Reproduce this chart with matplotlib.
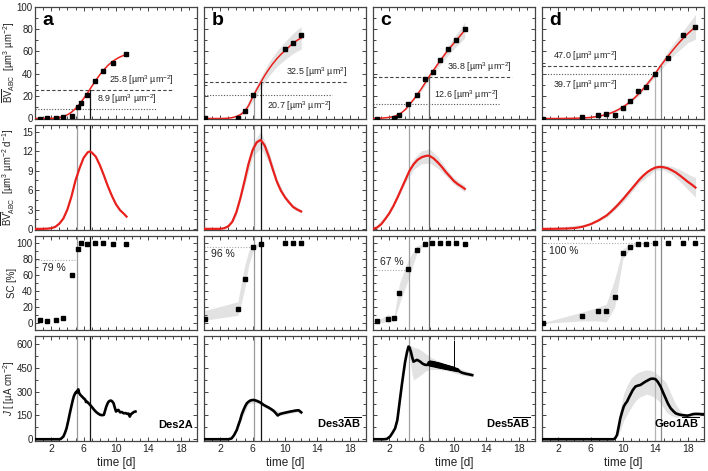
import matplotlib
matplotlib.use("Agg")
import matplotlib.pyplot as plt
from matplotlib.ticker import MultipleLocator, FixedLocator

plt.rcParams["font.family"] = ["Liberation Sans", "DejaVu Sans"]
plt.rcParams["mathtext.fontset"] = "custom"
plt.rcParams["mathtext.rm"] = "Liberation Sans"
plt.rcParams["mathtext.it"] = "Liberation Sans:italic"
plt.rcParams["mathtext.bf"] = "Liberation Sans:bold"
plt.rcParams["axes.linewidth"] = 0.9
plt.rcParams["axes.edgecolor"] = "#444444"

# ---------------- panel a (Des2A) ----------------
a_pts_t = [0.6, 1.45, 2.6, 3.5, 4.6, 5.37, 5.67, 6.41, 7.44, 8.35, 9.6, 11.25]
a_bv = [0, 0.2, 0.3, 0.9, 2.0, 10.3, 14.2, 21.4, 33.2, 42.1, 49.5, 57.3]
a_sc = [3.75, 2.5, 4.6, 6.7, 60.4, 92.9, 100, 99.6, 100, 100, 99.2, 99.2]
a_fit_t = [0, 0.5, 1, 1.5, 2, 2.5, 3, 3.5, 4, 4.5, 5, 5.5, 6, 6.5, 6.75, 7, 7.5, 8, 8.5, 9, 9.5, 10, 10.5, 11, 11.3]
a_fit_bv = [0, 0, 0, 0.05, 0.1, 0.35, 0.8, 1.8, 3.3, 5.6, 8.8, 12.8, 17.8, 23.0, 25.8, 28.6, 34.0, 39.0, 43.5, 47.4, 50.5, 53.0, 55.0, 56.5, 57.3]
a_fit_rate = [0, 0, 0, 0.03, 0.1, 0.3, 0.8, 1.6, 3.0, 5.0, 7.5, 9.4, 11.0, 11.85, 12.0, 11.85, 11.2, 9.9, 8.3, 6.6, 5.1, 3.8, 2.9, 2.3, 1.9]
a_j_t = [0, 3.0, 3.2, 3.5, 3.7, 3.9, 4.1, 4.3, 4.5, 4.67, 4.8, 4.96, 5.1, 5.2, 5.25, 5.35, 5.45, 5.6, 5.8, 6.0,
         6.2, 6.3, 6.4, 6.6, 6.8, 7.0, 7.2, 7.4, 7.6, 7.8, 8.06, 8.3, 8.5, 8.65, 8.8, 8.95, 9.1, 9.25, 9.4, 9.55,
         9.7, 9.85, 10.0, 10.15, 10.3, 10.5, 10.7, 10.95, 11.2, 11.4, 11.55, 11.7, 11.85, 12.0, 12.2, 12.4]
a_j = [0, 0, 3, 17, 40, 70, 115, 164, 210, 248, 272, 290, 300, 296, 308, 315, 292, 280, 270, 259,
       250, 235, 238, 228, 217, 205, 192, 180, 170, 162, 154, 152, 154, 180, 206, 225, 238, 243, 244, 238,
       227, 200, 175, 183, 185, 170, 172, 164, 165, 160, 162, 143, 158, 164, 172, 175]
a_times = [5.17, 6.74]
a_levels = [8.9, 25.8]
a_sc_level = 79

# ---------------- panel b (Des3AB) ----------------
b_bv_t = [0.12, 4.18, 5.0, 6.04, 10.05, 11.0, 12.0]
b_bv = [0.3, 0.5, 6.5, 20.7, 62.3, 67.3, 74.2]
b_sc_t = [0.12, 4.18, 5.0, 6.04, 7.03, 10.05, 11.0, 12.0]
b_sc = [5.4, 17.9, 56, 95, 99.6, 100, 100, 100]
b_fit_t = [0, 0.5, 1, 1.5, 2, 2.5, 3, 3.5, 4, 4.5, 5, 5.5, 6, 6.5, 7, 7.5, 8, 8.5, 9, 9.5, 10, 10.5, 11, 11.5, 12]
b_fit_bv = [0, 0, 0, 0, 0, 0.1, 0.3, 0.8, 1.8, 3.5, 6.2, 11.5, 19.0, 25.8, 32.3, 38.5, 44, 49, 53.4, 57.3, 60.6, 64, 67.2, 69.8, 72]
b_fit_rate = [0, 0, 0, 0, 0, 0.1, 0.4, 1.1, 2.6, 4.8, 7.4, 10.1, 12.2, 13.4, 13.8, 12.9, 11.2, 9.2, 7.3, 5.9, 4.9, 4.1, 3.4, 3.0, 2.7]
b_bv_band_t = [4, 5, 6, 7, 8, 9, 10, 11, 12]
b_bv_lo = [1.5, 4.2, 15, 27, 38, 46.4, 52.6, 58.2, 62]
b_bv_hi = [2.1, 8.2, 23, 37, 50, 60.4, 68.6, 76.2, 82]
b_rate_band_t = [2, 3, 4, 5, 6, 7, 8, 9, 10, 11, 12]
b_rate_lo = [0, 0.2, 2.1, 6.6, 11.2, 12.5, 10.3, 6.8, 4.6, 3.1, 2.4]
b_rate_hi = [0.1, 0.6, 3.1, 8.2, 13.2, 15.1, 12.1, 7.8, 5.2, 3.7, 3.0]
b_sc_band_t = [0.12, 4.18, 4.6, 5.0, 5.5, 6.04, 7.03]
b_sc_lo = [4, 10, 25, 42, 72, 90, 99.5]
b_sc_hi = [16, 27, 50, 71, 90, 98, 100.5]
b_j_t = [0, 3.0, 3.4, 3.7, 4.05, 4.25, 4.47, 4.65, 4.88, 5.1, 5.29, 5.5, 5.7, 5.9, 6.12, 6.3, 6.53, 6.75, 6.95,
         7.15, 7.36, 7.6, 7.98, 8.3, 8.6, 8.85, 9.1, 9.25, 9.43, 9.7, 10.05, 10.4, 10.67, 11.0, 11.3, 11.7, 12.0]
b_j = [0, 0, 5, 25, 59, 90, 122, 155, 185, 210, 227, 237, 244, 247, 248, 246, 242, 237, 232,
       225, 217, 210, 200, 190, 179, 165, 150, 155, 160, 164, 168, 172, 175, 178, 181, 183, 170]
b_j_band_t = [3.7, 4.5, 5.5, 6.5, 7.5, 8.5, 9.5, 10.5, 11.5, 12.0]
b_j_lo = [18, 112, 225, 229, 202, 171, 151, 162, 172, 160]
b_j_hi = [32, 138, 251, 256, 225, 193, 172, 183, 193, 181]
b_times = [6.12, 7.03]
b_levels = [20.7, 32.5]
b_sc_level = 96

# ---------------- panel c (Des5AB) ----------------
c_bv_t = [0.46, 2.6, 3.27, 4.38, 5.42, 6.37, 7.36, 8.31, 9.26, 10.3, 11.33]
c_bv = [0, 0.3, 2.9, 12.7, 21.4, 35, 41.5, 52.5, 62.3, 70.3, 80.1]
c_sc_t = [0.46, 1.82, 2.6, 3.27, 4.38, 5.42, 6.45, 7.32, 8.31, 9.26, 10.26, 11.3]
c_sc = [2.5, 5.4, 6.25, 37.5, 67.5, 92, 99.6, 100, 100, 100, 100, 99.6]
c_fit_t = [0, 0.5, 1, 1.5, 2, 2.5, 3, 3.5, 4, 4.5, 5, 5.5, 6, 6.5, 6.87, 7, 7.5, 8, 8.5, 9, 9.5, 10, 10.5, 11, 11.33]
c_fit_bv = [0, 0.1, 0.3, 0.6, 1.0, 1.6, 3.0, 5.0, 8.0, 12.6, 16.9, 21.7, 26.9, 32.5, 36.8, 38.2, 43.4, 48.6, 53.7, 58.5, 63.1, 67.4, 71.6, 75.9, 79.2]
c_fit_rate = [0, 0.2, 0.7, 1.5, 2.4, 3.5, 4.8, 6.2, 7.6, 9.0, 10.0, 10.7, 11.1, 11.3, 11.35, 11.3, 10.9, 10.3, 9.6, 8.8, 8.1, 7.4, 6.9, 6.5, 6.2]
c_bv_band_t = [4, 5, 6, 7, 8, 9, 10, 11, 11.33]
c_bv_lo = [7.5, 15.9, 24.9, 35.3, 45.3, 54.3, 62.3, 69.4, 72.2]
c_bv_hi = [8.5, 17.9, 28.9, 40.3, 51.3, 62.3, 72.3, 82.4, 86.2]
c_rate_band_t = [0, 2, 3, 4, 5, 6, 7, 8, 9, 10, 11.33]
c_rate_lo = [0, 2.2, 4.5, 7.1, 9.2, 10.1, 10.2, 9.4, 8.2, 6.9, 5.7]
c_rate_hi = [0.05, 2.6, 5.1, 8.1, 10.8, 12.1, 12.4, 11.2, 9.4, 7.9, 6.7]
c_sc_band_t = [0.46, 1.82, 2.6, 3.27, 4.38, 5.42, 6.45, 7.32]
c_sc_lo = [0, 2, 3, 25, 55, 88, 99, 99.5]
c_sc_hi = [3, 11, 9, 50, 80, 97, 100, 100.5]
c_j_t = [0, 1.3, 1.7, 2.1, 2.4, 2.73, 3.0, 3.14, 3.35, 3.56, 3.77, 3.97, 4.2, 4.38, 4.5, 4.67, 4.85, 5.0, 5.2,
         5.42, 5.6, 5.83, 6.05, 6.24, 6.45, 6.66,
         6.8, 6.9, 7.0, 7.1, 7.2, 7.3, 7.4, 7.5, 7.6, 7.7, 7.8, 7.9, 8.0, 8.1, 8.2, 8.3, 8.4, 8.5, 8.6, 8.7,
         8.8, 8.9, 9.0, 9.1, 9.2, 9.3, 9.4, 9.5, 9.6, 9.7, 9.8, 9.9, 10.0, 10.1, 10.2, 10.3, 10.4, 10.5, 10.6,
         10.8, 11.0, 11.2, 11.5, 11.8, 12.0, 12.25]
c_j = [0, 0, 2, 17, 40, 69, 120, 175, 260, 343, 420, 490, 550, 585, 580, 554, 515, 490, 495,
       501, 497, 490, 480, 474, 470, 469,
       472, 486, 466, 490, 465, 488, 462, 486, 460, 484, 458, 481, 455, 479, 453, 476, 451, 473, 449, 470,
       447, 467, 445, 464, 443, 461, 441, 458, 439, 455, 437, 452, 435, 448, 433, 444, 431, 440, 430,
       425, 420, 417, 413, 410, 408, 405]
c_j_band_t = [4.3, 4.5, 4.8, 5.0, 5.5, 6.0, 6.5, 7.0, 8.0, 9.0, 10.0, 11.0, 12.25]
c_j_lo = [560, 520, 420, 375, 390, 410, 430, 440, 440, 435, 420, 405, 395]
c_j_hi = [580, 595, 590, 580, 575, 560, 540, 520, 495, 475, 460, 440, 420]
c_spike_t = 10.0
c_spike_j = [440, 620]
c_times = [4.47, 6.87]
c_levels = [12.6, 36.8]
c_sc_level = 67

# ---------------- panel d (Geo1AB) ----------------
d_bv_t = [0.08, 4.92, 6.86, 7.94, 9.06, 9.97, 10.84, 11.83, 12.86, 13.9, 15.55, 17.4, 18.9]
d_bv = [0, 0.9, 2.9, 3.8, 3.5, 9.8, 15.7, 24.6, 28.1, 39.4, 54.3, 74.2, 81.6]
d_sc_t = [0.16, 4.92, 6.86, 7.94, 8.97, 9.97, 10.9, 11.87, 12.86, 13.9, 15.55, 17.4, 18.9]
d_sc = [0, 9.6, 15, 15, 32.5, 87.5, 95.8, 99.6, 99.6, 100, 100, 100, 100]
d_fit_t = [0, 1, 2, 3, 4, 5, 6, 7, 8, 8.5, 9, 9.5, 10, 10.5, 11, 11.5, 12, 12.5, 13, 13.5, 14, 14.5, 14.64,
           15, 15.5, 16, 16.5, 17, 17.5, 18, 18.5, 18.95]
d_fit_bv = [0, 0, 0, 0.1, 0.2, 0.45, 0.95, 2.0, 3.7, 4.9, 6.4, 8.2, 10.3, 12.8, 15.7, 18.9, 22.5, 26.5, 30.8,
            35.3, 40.3, 45.6, 47.0, 50.4, 55.1, 59.7, 64.1, 68.3, 72.2, 75.8, 79.0, 81.8]
d_fit_rate = [0, 0, 0.02, 0.05, 0.12, 0.32, 0.72, 1.32, 2.1, 2.65, 3.25, 3.9, 4.6, 5.35, 6.1, 6.85, 7.6, 8.25,
              8.8, 9.2, 9.5, 9.6, 9.6, 9.55, 9.4, 9.1, 8.75, 8.3, 7.8, 7.3, 6.85, 6.4]
d_bv_band_t = [0, 4, 6, 8, 10, 12, 14, 16, 18, 18.95]
d_bv_lo = [0, 0, 0.45, 2.7, 8.8, 20.5, 37.3, 54.7, 67.8, 70.8]
d_bv_hi = [0, 0.5, 1.45, 4.7, 11.8, 24.5, 43.3, 64.7, 83.8, 92.8]
d_rate_band_t = [0, 6, 8, 10, 12, 14, 15, 16, 17, 18, 18.95]
d_rate_lo = [0, 0.62, 1.8, 4.1, 7.1, 9.1, 9.15, 8.5, 7.4, 6.1, 4.9]
d_rate_hi = [0, 0.82, 2.4, 5.1, 8.1, 9.9, 9.95, 9.7, 9.2, 8.5, 7.9]
d_sc_band_t = [0.16, 4.92, 6.86, 7.94, 8.97, 9.97, 10.9, 11.87, 12.86]
d_sc_lo = [0, 3, 3, 2, 20, 80, 93, 99, 99.5]
d_sc_hi = [1, 14, 20, 24, 55, 93, 99, 100.5, 100.5]
d_j_t = [0, 8.85, 9.05, 9.26, 9.45, 9.67, 9.9, 10.09, 10.3, 10.5, 10.7, 10.9, 11.2, 11.54, 11.8, 12.16, 12.5,
         12.78, 13.1, 13.4, 13.7, 14.02, 14.3, 14.64, 14.95, 15.26, 15.55, 15.88, 16.2, 16.5, 16.8, 17.12, 17.5,
         17.95, 18.3, 18.57, 18.9, 19.19, 19.6, 20.0]
d_j = [0, 0, 8, 27, 75, 133, 175, 206, 225, 238, 260, 280, 310, 333, 338, 343, 355,
       364, 373, 381, 383, 379, 362, 333, 295, 259, 225, 196, 178, 164, 158, 154, 151,
       149, 153, 158, 160, 160, 159, 158]
d_j_band_t = [9.3, 9.7, 10.1, 10.5, 11.0, 11.5, 12.0, 12.9, 13.5, 14.0, 14.6, 15.3, 15.9, 16.5, 17.2, 18.0, 20.0]
d_j_lo = [15, 60, 120, 155, 200, 240, 265, 285, 275, 262, 230, 175, 150, 140, 142, 140, 150]
d_j_hi = [40, 200, 290, 340, 385, 410, 425, 438, 435, 420, 395, 360, 290, 220, 170, 160, 168]
d_times = [13.9, 14.64]
d_levels = [39.7, 47.0]
d_sc_level = 100

names = ["Des2A", r"Des3$\overline{\mathbf{AB}}$", r"Des5$\overline{\mathbf{AB}}$", r"Geo1$\overline{\mathbf{AB}}$"]
letters = ["a", "b", "c", "d"]
u = r"[µm$^{3}$ µm$^{-2}$]"

panels = [
    dict(bv_t=a_pts_t, bv=a_bv, sc_t=a_pts_t, sc=a_sc, fit_t=a_fit_t, fit_bv=a_fit_bv, fit_rate=a_fit_rate,
         bv_band=None, rate_band=None, sc_band=None, j_t=a_j_t, j=a_j, j_band=None,
         times=a_times, levels=a_levels, sc_level=a_sc_level, vcol=["#9a9a9a", "#111111"],
         ltext=[("8.9 " + u, 15.1, "right", "above"), ("25.8 " + u, 17.1, "right", "above")],
         line_end=[15.1, 17.1], sc_text_pos="below"),
    dict(bv_t=b_bv_t, bv=b_bv, sc_t=b_sc_t, sc=b_sc, fit_t=b_fit_t, fit_bv=b_fit_bv, fit_rate=b_fit_rate,
         bv_band=(b_bv_band_t, b_bv_lo, b_bv_hi), rate_band=(b_rate_band_t, b_rate_lo, b_rate_hi),
         sc_band=(b_sc_band_t, b_sc_lo, b_sc_hi), j_t=b_j_t, j=b_j, j_band=(b_j_band_t, b_j_lo, b_j_hi),
         times=b_times, levels=b_levels, sc_level=b_sc_level, vcol=["#9a9a9a", "#111111"],
         ltext=[("20.7 " + u, 15.8, "right", "below"), (r"32.5 [µm$^{3}$ µm$^{2}$]", 17.7, "right", "above")],
         line_end=[15.8, 17.7], sc_text_pos="below"),
    dict(bv_t=c_bv_t, bv=c_bv, sc_t=c_sc_t, sc=c_sc, fit_t=c_fit_t, fit_bv=c_fit_bv, fit_rate=c_fit_rate,
         bv_band=(c_bv_band_t, c_bv_lo, c_bv_hi), rate_band=(c_rate_band_t, c_rate_lo, c_rate_hi),
         sc_band=(c_sc_band_t, c_sc_lo, c_sc_hi), j_t=c_j_t, j=c_j, j_band=(c_j_band_t, c_j_lo, c_j_hi),
         times=c_times, levels=c_levels, sc_level=c_sc_level, vcol=["#a0a0a0", "#666666"],
         ltext=[("12.6 " + u, 15.5, "right", "above"), ("36.8 " + u, 17.2, "right", "above")],
         line_end=[15.5, 17.2], sc_text_pos="above"),
    dict(bv_t=d_bv_t, bv=d_bv, sc_t=d_sc_t, sc=d_sc, fit_t=d_fit_t, fit_bv=d_fit_bv, fit_rate=d_fit_rate,
         bv_band=(d_bv_band_t, d_bv_lo, d_bv_hi), rate_band=(d_rate_band_t, d_rate_lo, d_rate_hi),
         sc_band=(d_sc_band_t, d_sc_lo, d_sc_hi), j_t=d_j_t, j=d_j, j_band=(d_j_band_t, d_j_lo, d_j_hi),
         times=d_times, levels=d_levels, sc_level=d_sc_level, vcol=["#b4b4b4", "#8a8a8a"],
         ltext=[("39.7 " + u, 1.4, "left", "below"), ("47.0 " + u, 1.4, "left", "above")],
         line_end=d_times, sc_text_pos="below"),
]

ylabels = [r"$\overline{\mathrm{BV}}_{\mathrm{ABC}}$  " + u,
           r"$\overline{\mathrm{BV}}^{*}_{\mathrm{ABC}}$  [µm$^{3}$ µm$^{-2}$ d$^{-1}$]",
           "SC [%]",
           r"$J$ [ [µA cm$^{-2}$]"]

FW, FH = 708.0, 471.0
col_x = [35, 204, 373, 542]
col_w = 162
rows = [(6.5, 118.5), (125, 229.5), (235.7, 330), (335.5, 441)]
ylims = [(0, 100), (-0.1, 16.1), (-8.3, 109.5), (-11, 655)]
ymaj = [20, 3, 20, 150]
ymin = [10, 1.5, 10, 75]
band_col = "#e2e2e2"

fig = plt.figure(figsize=(7.08, 4.71), dpi=100)

for j, p in enumerate(panels):
    for i in range(4):
        top, bot = rows[i]
        ax = fig.add_axes([col_x[j] / FW, 1 - bot / FH, col_w / FW, (bot - top) / FH])
        ax.set_xlim(0, 20)
        ax.set_ylim(*ylims[i])
        ax.xaxis.set_major_locator(FixedLocator([2, 6, 10, 14, 18]))
        ax.xaxis.set_minor_locator(MultipleLocator(1))
        ax.yaxis.set_major_locator(MultipleLocator(ymaj[i]))
        ax.yaxis.set_minor_locator(MultipleLocator(ymin[i]))
        ax.tick_params(which="both", direction="in", top=True, right=True, colors="#444444",
                       labelcolor="#222222", labelsize=7, pad=1.5, width=0.7)
        ax.tick_params(which="major", length=3)
        ax.tick_params(which="minor", length=2)
        if i < 3:
            ax.tick_params(labelbottom=False)
        else:
            ax.set_xlabel("time [d]", fontsize=8.5, labelpad=2, color="#222222")
            ax.tick_params(axis="x", labelsize=7.5, pad=2.5)
        if j > 0:
            ax.tick_params(labelleft=False)
        else:
            ax.set_ylabel(ylabels[i], fontsize=6.9, color="#222222")
            ax.yaxis.set_label_coords(-0.112, 0.5)

        t1, t2 = p["times"]
        if i == 0:
            if p["bv_band"] is not None:
                ax.fill_between(*p["bv_band"], color=band_col, lw=0, zorder=1)
            l1, l2 = p["levels"]
            ax.plot([0, p["line_end"][0]], [l1, l1], ls=(0, (1, 1.5)), color="#555555", lw=0.8, zorder=2)
            ax.plot([0, p["line_end"][1]], [l2, l2], ls=(0, (3, 2)), color="#444444", lw=0.8, zorder=2)
            ax.plot([t1, t1], [0, l1], color=p["vcol"][0], lw=0.9, zorder=2)
            ax.plot([t2, t2], [0, l2], color=p["vcol"][1], lw=0.9, zorder=2)
            for (txt, tx, ha, pos) in p["ltext"]:
                lv = l1 if txt.startswith(f"{l1:.1f}") else l2
                ty = lv + 2.5 if pos == "above" else lv - 3.5
                ax.text(tx, ty, txt, fontsize=6.4, ha=ha, va="bottom" if pos == "above" else "top",
                        color="#222222")
            ax.plot(p["fit_t"], p["fit_bv"], color="#e8201c", lw=1.1, zorder=3)
            ax.plot(p["bv_t"], p["bv"], "s", color="black", ms=2.6, zorder=4)
            ax.text(0.045, 0.955, letters[j], transform=ax.transAxes, fontsize=14, fontweight="bold",
                    ha="left", va="top")
        elif i == 1:
            if p["rate_band"] is not None:
                ax.fill_between(*p["rate_band"], color=band_col, lw=0, zorder=1)
            ax.axvline(t1, color=p["vcol"][0], lw=0.9, zorder=2)
            ax.axvline(t2, color=p["vcol"][1], lw=0.9, zorder=2)
            ax.plot(p["fit_t"], p["fit_rate"], color="#e8201c", lw=1.6, zorder=3)
        elif i == 2:
            if p["sc_band"] is not None:
                ax.fill_between(*p["sc_band"], color=band_col, lw=0, zorder=1)
            lv = p["sc_level"]
            ax.plot([0, t1], [lv, lv], ls=(0, (1, 1.5)), color="#aaaaaa", lw=0.8, zorder=2)
            if p["sc_text_pos"] == "above":
                ax.text(0.9, lv + 3, f"{lv} %", fontsize=7.5, ha="left", va="bottom", color="#222222")
            else:
                ax.text(0.9, lv - 3.5, f"{lv} %", fontsize=7.5, ha="left", va="top", color="#222222")
            ax.axvline(t1, color=p["vcol"][0], lw=0.9, zorder=2)
            ax.axvline(t2, color=p["vcol"][1], lw=0.9, zorder=2)
            ax.plot(p["sc_t"], p["sc"], "s", color="black", ms=2.4, zorder=4)
        else:
            if p["j_band"] is not None:
                ax.fill_between(*p["j_band"], color=band_col, lw=0, zorder=1)
            ax.axvline(t1, color=p["vcol"][0], lw=0.9, zorder=2)
            ax.axvline(t2, color=p["vcol"][1], lw=0.9, zorder=2)
            ax.plot(p["j_t"], p["j"], color="black", lw=1.9, zorder=3, solid_joinstyle="round")
            if j == 2:
                ax.plot([c_spike_t, c_spike_t], c_spike_j, color="black", lw=0.7, zorder=3)
            ax.text(0.975, 0.1, names[j], transform=ax.transAxes, fontsize=8, fontweight="bold",
                    ha="right", va="bottom")

fig.savefig("out.png", dpi=100)
